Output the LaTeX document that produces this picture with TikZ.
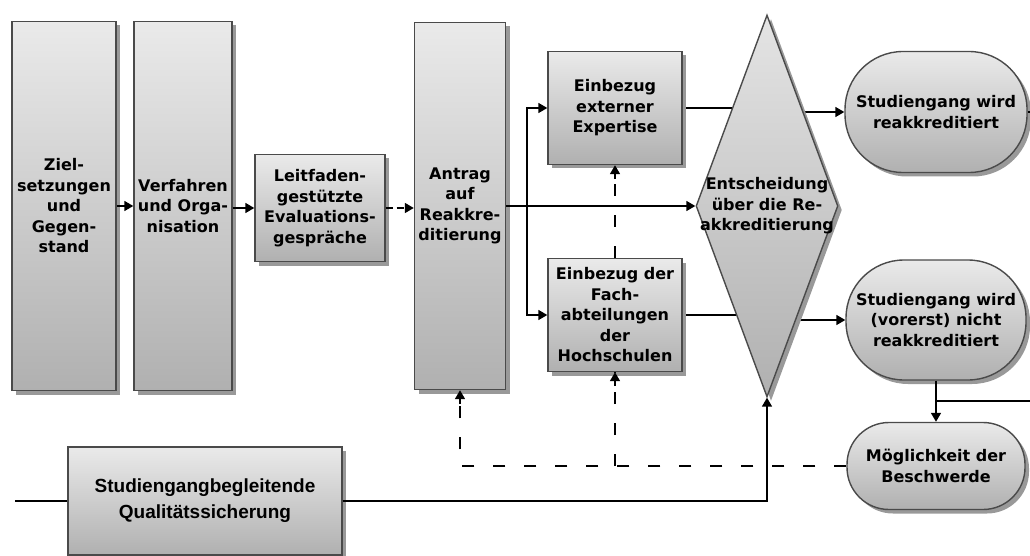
\documentclass[tikz,border=0pt]{standalone}
\usepackage{fontspec}
\setmainfont{DejaVu Sans}
\newfontfamily\qualfont{Liberation Sans}
\usetikzlibrary{positioning,shapes.geometric,shadows,arrows.meta,backgrounds}

\definecolor{rand}{HTML}{4A4A4A}
\definecolor{hell}{HTML}{EAEAEA}
\definecolor{dunkel}{HTML}{B0B0B0}

\tikzset{
	kasten/.style={draw=rand,line width=1.4pt,top color=hell,bottom color=dunkel,
		drop shadow={shadow xshift=4pt,shadow yshift=-4pt,fill=black!40,opacity=1},
		inner sep=1pt,align=center,font=\bfseries\fontsize{16}{20.5}\selectfont},
	oval/.style={kasten,rounded corners=58pt},
	raute/.style={kasten,shape=diamond,inner sep=0pt,top color=hell!90!dunkel},
	pfeil/.style={-{Triangle[length=9pt,width=10pt]}},
	linie/.style={line width=1.6pt},
	gestrichelt/.style={line width=1.6pt,dash pattern=on 12pt off 19pt}
}

\begin{document}
\begin{tikzpicture}[x=1pt,y=-1pt]
\useasboundingbox (0,0) rectangle (1030,556);

% Kaesten
\node[kasten,minimum width=104pt,minimum height=369pt](ziel) at (64,206)
	{Ziel-\\setzungen\\und\\Gegen-\\stand};
\node[kasten,minimum width=98pt,minimum height=369pt](verf) at (183,206)
	{Verfahren\\und Orga-\\nisation};
\node[kasten,minimum width=130pt,minimum height=107pt](leit) at (320,208)
	{Leitfaden-\\gestützte\\Evaluations-\\gespräche};
\node[kasten,minimum width=91pt,minimum height=367pt](antrag) at (460,206)
	{Antrag\\auf\\Reakkre-\\ditierung};
\node[kasten,minimum width=134pt,minimum height=113pt](extern) at (615,108)
	{Einbezug\\externer\\Expertise};
\node[kasten,minimum width=134pt,minimum height=113pt](fach) at (615,315)
	{Einbezug der\\Fach-\\abteilungen\\der\\Hochschulen};
\node[raute,minimum width=142pt,minimum height=382pt](entsch) at (767,206){};
\node[align=center,font=\bfseries\fontsize{16}{20.5}\selectfont](entschtxt) at (entsch.center)
	{Entscheidung\\über die Re-\\akkreditierung};
\node[oval,minimum width=182pt,minimum height=121pt](stud1) at (936,112)
	{Studiengang wird\\reakkreditiert};
\node[oval,minimum width=180pt,minimum height=120pt](stud2) at (936,320)
	{Studiengang wird\\(vorerst) nicht\\reakkreditiert};
\node[oval,rounded corners=42pt,minimum width=178pt,minimum height=87pt](beschw) at (936,466)
	{Möglichkeit der\\Beschwerde};
\node[kasten,minimum width=274pt,minimum height=108pt,font=\qualfont\bfseries\fontsize{19}{26}\selectfont](qual) at (205,501)
	{Studiengangbegleitende\\Qualitätssicherung};

\coordinate(gabel) at (527,206);
\coordinate(rechts1) at (1030,112);
\coordinate(rechts2) at (1030,401);
\coordinate(links) at (15,501);

% Verbindungen
\draw[linie,pfeil](ziel.east)--(ziel.east-|verf.west);
\draw[linie,pfeil](verf.east|-leit)--(leit.west);
\draw[linie,pfeil,dash pattern=on 7pt off 4pt](leit.east)--(leit.east-|antrag.west);
\draw[linie,pfeil](antrag.east)--(entsch.west);
\draw[linie,pfeil](gabel)|-(extern.west);
\draw[linie,pfeil](gabel)|-(fach.west);

\begin{pgfonlayer}{background}
\foreach \a/\b in {extern/stud1,fach/stud2}{
	\draw[linie](\a.east)--(\a.east-|entsch.center);
	\draw[linie,pfeil](entsch.center|-\b.west)--(\b.west);
}
\end{pgfonlayer}

\draw[linie](stud1.east)--(rechts1);
\draw[linie,pfeil](stud2.south)--(beschw.north);
\draw[linie](stud2.south|-rechts2)--(rechts2);

\draw[linie](links)--(qual.west);
\draw[linie,pfeil](qual.east)-|(entsch.south);

\draw[gestrichelt](beschw.west)-|(antrag.south);
\draw[linie,pfeil](antrag.south)++(0,14)--(antrag.south);
\draw[gestrichelt](fach.south|-beschw.west)--(fach.south);
\draw[linie,pfeil](fach.south)++(0,14)--(fach.south);
\draw[gestrichelt](fach.north)--(extern.south);
\draw[linie,pfeil](extern.south)++(0,14)--(extern.south);

\end{tikzpicture}
\end{document}
